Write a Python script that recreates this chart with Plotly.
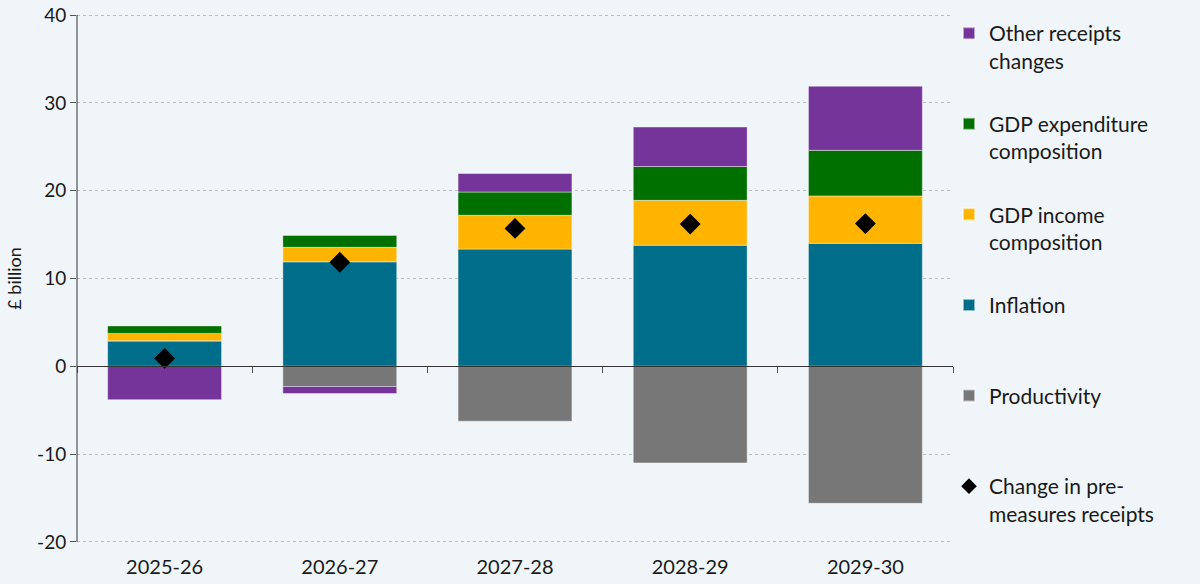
import plotly.graph_objects as go

years = ["2025-26", "2026-27", "2027-28", "2028-29", "2029-30"]
inflation = [2.9, 11.9, 13.35, 13.8, 14.0]
productivity = [0.0, -2.3, -6.25, -11.0, -15.6]
gdp_income = [0.85, 1.65, 3.85, 5.1, 5.4]
gdp_expenditure = [0.85, 1.35, 2.65, 3.85, 5.2]
other_receipts = [-3.8, -0.8, 2.1, 4.5, 7.3]
pre_measures = [0.9, 11.85, 15.7, 16.2, 16.25]
y_ticks = [-20, -10, 0, 10, 20, 30, 40]

BG = "#EFF5F8"
FONT = "Lato"
NB = "\u00a0"

fig = go.Figure()
edge = dict(color="rgba(255,255,255,0.55)", width=0.75)

fig.add_trace(go.Bar(x=years, y=inflation, name="Inflation<br>" + NB,
                     marker=dict(color="#006D8A", line=edge), legendgroup="d", legendrank=4))
fig.add_trace(go.Bar(x=years, y=productivity, name="Productivity<br>" + NB,
                     marker=dict(color="#777777", line=edge), legendgroup="e", legendrank=5))
fig.add_trace(go.Bar(x=years, y=gdp_income, name="GDP income<br>composition",
                     marker=dict(color="#FFB400", line=edge), legendgroup="c", legendrank=3))
fig.add_trace(go.Bar(x=years, y=gdp_expenditure, name="GDP expenditure<br>composition",
                     marker=dict(color="#007000", line=edge), legendgroup="b", legendrank=2))
fig.add_trace(go.Bar(x=years, y=other_receipts, name="Other receipts<br>changes",
                     marker=dict(color="#74349A", line=edge), legendgroup="a", legendrank=1))
fig.add_trace(go.Scatter(x=years, y=pre_measures, mode="markers",
                         name="Change in pre-<br>measures receipts",
                         marker=dict(symbol="diamond", size=16, color="black"),
                         legendgroup="f", legendrank=6))

y_lo, y_hi = -20.12, 40.12

fig.update_layout(
    width=1200, height=584,
    barmode="relative", bargap=0.35,
    paper_bgcolor=BG, plot_bgcolor=BG,
    font=dict(family=FONT, color="#1a1a1a", size=18),
    margin=dict(l=77, r=247, t=14, b=41, autoexpand=False),
    showlegend=True,
    legend=dict(
        xref="container", yref="container",
        x=949 / 1200, y=1 - 13 / 584, xanchor="left", yanchor="top",
        bgcolor="rgba(0,0,0,0)", font=dict(size=21, family=FONT, color="#1a1a1a"),
        tracegroupgap=33, valign="top", itemsizing="constant",
        traceorder="grouped", maxheight=700,
    ),
    xaxis=dict(
        showline=False, ticks="", showgrid=False, zeroline=False,
        tickfont=dict(size=20), ticklabelstandoff=10,
    ),
    xaxis2=dict(
        matches="x", overlaying="x", anchor="free",
        position=(0 - y_lo) / (y_hi - y_lo),
        showline=True, linecolor="#333333", linewidth=1,
        ticks="outside", tickson="boundaries", ticklen=6, tickcolor="#555555",
        showticklabels=False, showgrid=False, zeroline=False,
    ),
    yaxis=dict(
        range=[y_lo, y_hi], tickvals=y_ticks, ticktext=[str(v) for v in y_ticks],
        showline=False,
        ticks="outside", ticklen=6, tickcolor="#555555",
        showgrid=True, gridcolor="#BDBDBD", griddash="dot", gridwidth=1,
        zeroline=False, tickfont=dict(size=19), ticklabeloverflow="allow",
        title=dict(text="£ billion", font=dict(size=18), standoff=10),
    ),
)
fig.add_shape(type="line", xref="paper", yref="y", x0=0, x1=0,
              y0=y_ticks[0], y1=y_ticks[-1], line=dict(color="#333333", width=1), layer="above")
fig.add_trace(go.Scatter(x=years, y=[None] * len(years), xaxis="x2", showlegend=False,
                         hoverinfo="skip", mode="markers"))

fig.write_html("out.html", config={"displayModeBar": False},
               post_script="document.body.style.margin='0';document.body.style.background='" + BG + "';")
